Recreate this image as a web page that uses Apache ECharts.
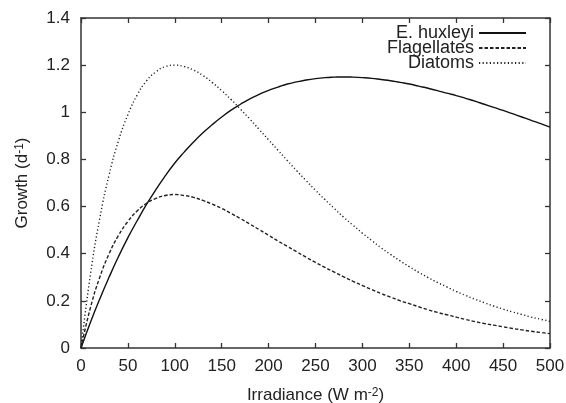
<!DOCTYPE html>
<html>
<head>
<meta charset="utf-8">
<script src="https://cdn.jsdelivr.net/npm/echarts@6/dist/echarts.min.js"></script>
<style>
  html, body { margin: 0; padding: 0; background: #fff; }
  #chart { width: 566px; height: 403px; }
</style>
</head>
<body>
<div id="chart"></div>
<script>
// Irradiance levels (W m^-2)
const irradiance = [0, 10, 20, 30, 40, 50, 60, 70, 80, 90,
  100, 110, 120, 130, 140, 150, 160, 170, 180, 190,
  200, 210, 220, 230, 240, 250, 260, 270, 280, 290,
  300, 310, 320, 330, 340, 350, 360, 370, 380, 390,
  400, 410, 420, 430, 440, 450, 460, 470, 480, 490, 500];

// Growth rates (d^-1)
const eHuxleyi = [0, 0.108, 0.208, 0.301, 0.388, 0.468, 0.541, 0.61, 0.673, 0.731,
  0.785, 0.831, 0.874, 0.913, 0.948, 0.98, 1.009, 1.034, 1.057, 1.076,
  1.093, 1.107, 1.12, 1.129, 1.137, 1.143, 1.147, 1.149, 1.15, 1.149,
  1.147, 1.144, 1.139, 1.134, 1.127, 1.12, 1.111, 1.102, 1.092, 1.081,
  1.071, 1.059, 1.047, 1.034, 1.021, 1.008, 0.994, 0.98, 0.966, 0.952, 0.937];
const flagellates = [0, 0.17, 0.3, 0.4, 0.478, 0.537, 0.582, 0.614, 0.635, 0.647,
  0.651, 0.647, 0.639, 0.626, 0.61, 0.592, 0.571, 0.549, 0.526, 0.502,
  0.478, 0.454, 0.431, 0.408, 0.385, 0.363, 0.342, 0.322, 0.302, 0.283,
  0.265, 0.248, 0.231, 0.216, 0.201, 0.188, 0.175, 0.162, 0.151, 0.141,
  0.131, 0.121, 0.112, 0.104, 0.097, 0.09, 0.083, 0.077, 0.071, 0.066, 0.061];
const diatoms = [0, 0.31, 0.55, 0.735, 0.88, 0.99, 1.074, 1.134, 1.172, 1.194,
  1.2, 1.194, 1.179, 1.156, 1.126, 1.092, 1.054, 1.013, 0.971, 0.927,
  0.883, 0.839, 0.795, 0.752, 0.71, 0.669, 0.63, 0.592, 0.555, 0.521,
  0.487, 0.456, 0.425, 0.397, 0.37, 0.345, 0.321, 0.299, 0.278, 0.259,
  0.24, 0.223, 0.207, 0.192, 0.178, 0.165, 0.153, 0.142, 0.131, 0.122, 0.113];

const seriesNames = ['E. huxleyi', 'Flagellates', 'Diatoms'];

const FONT = '"Liberation Sans", Arial, Helvetica, sans-serif';
const AXIS_COLOR = '#333';
const TEXT_COLOR = '#222';

function pairs(ys) {
  return irradiance.map((x, i) => [x, ys[i]]);
}

const tickStyle = { show: true, inside: true, length: 5, lineStyle: { color: AXIS_COLOR, width: 1.3 } };
const lineAxis = { show: true, onZero: false, lineStyle: { color: AXIS_COLOR, width: 1.5 } };

const chart = echarts.init(document.getElementById('chart'), null, { renderer: 'canvas' });

// One legend block per row so the key lines stay flush on the right
function legendFor(name, top) {
  return {
    data: [name],
    orient: 'vertical',
    right: 39,
    top: top,
    padding: 0,
    align: 'right',
    itemWidth: 47,
    itemHeight: 10,
    selectedMode: false,
    itemStyle: { color: 'rgba(0,0,0,0)', borderWidth: 0, opacity: 0 },
    textStyle: { fontFamily: FONT, fontSize: 18, color: TEXT_COLOR, lineHeight: 16 }
  };
}

const supRich = { sup: { fontFamily: FONT, fontSize: 12, color: TEXT_COLOR, verticalAlign: 'top', lineHeight: 12 } };

chart.setOption({
  animation: false,
  backgroundColor: '#fff',
  grid: { left: 81, right: 16, top: 18, bottom: 55, containLabel: false, outerBoundsMode: 'none' },
  legend: [legendFor(seriesNames[0], 24), legendFor(seriesNames[1], 39), legendFor(seriesNames[2], 54)],
  xAxis: [{
    type: 'value', min: 0, max: 500, interval: 50,
    position: 'bottom',
    axisLine: lineAxis, axisTick: tickStyle, splitLine: { show: false },
    axisLabel: { fontFamily: FONT, fontSize: 17, color: TEXT_COLOR, margin: 10 },
    name: 'Irradiance (W m{sup|-2})',
    nameLocation: 'middle', nameGap: 39,
    nameTextStyle: { fontFamily: FONT, fontSize: 17, color: TEXT_COLOR, rich: supRich }
  }, {
    type: 'value', min: 0, max: 500, interval: 50,
    position: 'top',
    axisLine: lineAxis, axisTick: tickStyle, splitLine: { show: false },
    axisLabel: { show: false }
  }],
  yAxis: [{
    type: 'value', min: 0, max: 1.4, interval: 0.2,
    position: 'left',
    axisLine: lineAxis, axisTick: tickStyle, splitLine: { show: false },
    axisLabel: { fontFamily: FONT, fontSize: 17, color: TEXT_COLOR, margin: 11 },
    name: 'Growth (d{sup|-1})',
    nameLocation: 'middle', nameGap: 50, nameRotate: 90,
    nameTextStyle: { fontFamily: FONT, fontSize: 17, color: TEXT_COLOR, rich: supRich }
  }, {
    type: 'value', min: 0, max: 1.4, interval: 0.2,
    position: 'right',
    axisLine: lineAxis, axisTick: tickStyle, splitLine: { show: false },
    axisLabel: { show: false }
  }],
  series: [{
    name: seriesNames[0], type: 'line', data: pairs(eHuxleyi),
    smooth: true, symbol: 'none',
    lineStyle: { color: '#111', width: 1.4, type: 'solid' },
    itemStyle: { color: '#111' }
  }, {
    name: seriesNames[1], type: 'line', data: pairs(flagellates),
    smooth: true, symbol: 'none',
    lineStyle: { color: '#222', width: 1.4, type: [3.5, 2] },
    itemStyle: { color: '#222' }
  }, {
    name: seriesNames[2], type: 'line', data: pairs(diatoms),
    smooth: true, symbol: 'none',
    lineStyle: { color: '#222', width: 1.4, type: [1.2, 2.4] },
    itemStyle: { color: '#222' }
  }]
});
</script>
</body>
</html>
